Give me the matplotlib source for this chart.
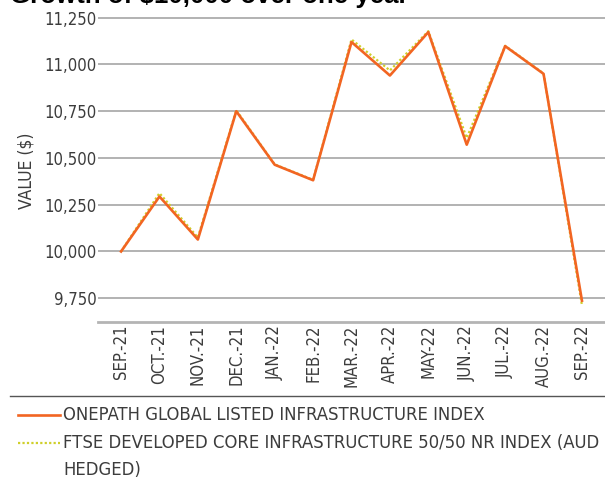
import numpy as np
import matplotlib
matplotlib.use('Agg')
import matplotlib.pyplot as plt
from matplotlib.lines import Line2D
from matplotlib.ticker import FuncFormatter

months = ['SEP.-21', 'OCT.-21', 'NOV.-21', 'DEC.-21', 'JAN.-22', 'FEB.-22',
          'MAR.-22', 'APR.-22', 'MAY-22', 'JUN.-22', 'JUL.-22', 'AUG.-22',
          'SEP.-22']
onepath = [10000, 10294, 10064, 10750, 10464, 10381, 11120, 10941, 11173,
           10571, 11098, 10950, 9737]
ftse = [10000, 10312, 10075, 10755, 10466, 10383, 11134, 10968, 11178,
        10607, 11100, 10952, 9713]
yticks = [9750, 10000, 10250, 10500, 10750, 11000, 11250]

orange = '#f26522'
yellow = '#cfcf2a'
txt = '#3c3c3c'
font = dict(family='DejaVu Sans', stretch='condensed', weight='light')

W, H = 605, 479
fig = plt.figure(figsize=(W / 100, H / 100), dpi=100)
ax = fig.add_axes([98 / W, 1 - 322 / H, 1 - 98 / W, (322 - 5) / H])

x = np.arange(len(months))
ax.plot(x, ftse, color=yellow, lw=1.6, ls=(0, (1, 1)), zorder=3)
ax.plot(x, onepath, color=orange, lw=1.9, zorder=4)

ax.set_xlim(-0.6, 12.6)
ax.set_ylim(9623, 11318)
ax.set_yticks(yticks)
ax.yaxis.set_major_formatter(FuncFormatter(lambda v, p: '{:,.0f}'.format(v)))
ax.set_xticks(x)
ax.set_xticklabels(months, rotation=90, **font)
for lab in ax.get_yticklabels():
    lab.set(**font)
ax.tick_params(axis='both', length=0, labelsize=12, colors=txt)
ax.tick_params(axis='y', pad=1)
ax.tick_params(axis='x', pad=2)
ax.grid(axis='y', color='#a6a6a6', lw=1.2)
ax.set_axisbelow(True)
for s in ['top', 'right', 'left']:
    ax.spines[s].set_visible(False)
ax.spines['bottom'].set_color('#b4b4b4')
ax.spines['bottom'].set_linewidth(2)

ax.set_ylabel('VALUE ($)', fontsize=12.5, color=txt, **font)
ax.yaxis.set_label_coords(-(98 - 36) / (W - 98), 0.5 - 7 / 317)

# heading, clipped at the top edge
fig.text(10 / W, 1 - 2.5 / H, 'Growth of $10,000 over one year',
         fontsize=18.6, fontweight='bold', family='Liberation Sans',
         color='black', va='baseline', ha='left')

# separator below the axis labels
fig.add_artist(Line2D([10 / W, 1], [1 - 396 / H] * 2, color='#555555', lw=1))

# legend
fig.add_artist(Line2D([18 / W, 60 / W], [1 - 415 / H] * 2, color=orange, lw=1.9))
fig.add_artist(Line2D([18 / W, 60 / W], [1 - 443 / H] * 2, color=yellow,
                      lw=1.6, ls=(0, (1, 1))))
fig.text(63 / W, 1 - 415 / H, 'ONEPATH GLOBAL LISTED INFRASTRUCTURE INDEX',
         fontsize=13.2, color=txt, va='center', **font)
fig.text(63 / W, 1 - 443 / H,
         'FTSE DEVELOPED CORE INFRASTRUCTURE 50/50 NR INDEX (AUD',
         fontsize=13.2, color=txt, va='center', **font)
fig.text(63 / W, 1 - 470 / H, 'HEDGED)',
         fontsize=13.2, color=txt, va='center', **font)

fig.savefig('out.png', dpi=100)
